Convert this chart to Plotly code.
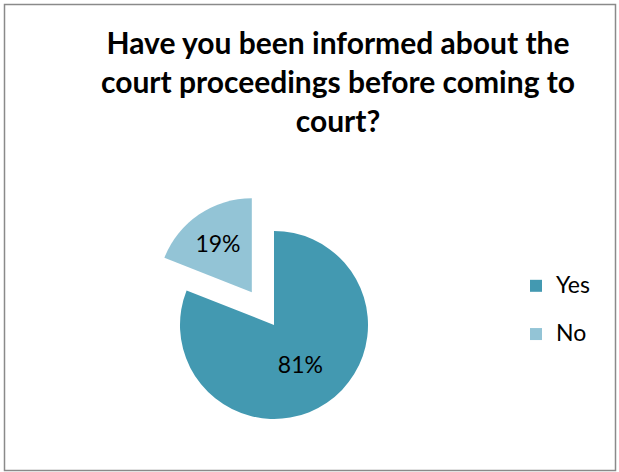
import plotly.graph_objects as go

# Survey answers
answers = ["Yes", "No"]
shares = [81, 19]
slice_colors = ["#4399B1", "#93C4D6"]
exploded = [0, 0.42]

title_text = ("Have you been informed about the<br>"
              "court proceedings before coming to<br>"
              "court?")

W, H = 619, 472


def px_x(v):
    return v / W


def px_y(v):
    return 1 - v / H


fig = go.Figure(
    go.Pie(
        labels=[f'<span style="font-size:23px">{a}</span><br> ' for a in answers],
        values=shares,
        sort=False,
        direction="clockwise",
        rotation=0,
        pull=exploded,
        marker=dict(colors=slice_colors, line=dict(width=0)),
        textinfo="percent",
        textposition="inside",
        insidetextorientation="horizontal",
        insidetextfont=dict(family="Lato", size=23, color="#000000"),
        hoverinfo="label+percent",
        domain=dict(x=[px_x(140.5), px_x(407.5)], y=[1 - 458.5 / H, 1 - 191.5 / H]),
    )
)

fig.update_layout(
    width=W,
    height=H,
    margin=dict(l=0, r=0, t=0, b=0),
    paper_bgcolor="#ffffff",
    plot_bgcolor="#ffffff",
    font=dict(family="Lato", color="#000000"),
    title=dict(
        text=title_text,
        x=px_x(338),
        xanchor="center",
        xref="paper",
        y=px_y(54),
        yanchor="top",
        yref="container",
        font=dict(family="Lato", size=30, color="#000000", weight="bold"),
    ),
    legend=dict(
        x=px_x(516),
        y=px_y(268),
        xanchor="left",
        yanchor="top",
        valign="top",
        font=dict(family="Lato", size=17.4, color="#000000"),
        bgcolor="rgba(0,0,0,0)",
        borderwidth=0,
    ),
    shapes=[
        dict(
            type="rect",
            xref="paper",
            yref="paper",
            x0=px_x(4.5),
            x1=px_x(615.5),
            y0=px_y(470.5),
            y1=px_y(4.5),
            line=dict(color="#8a8a8a", width=1.5),
            fillcolor="rgba(0,0,0,0)",
            layer="above",
        )
    ],
)

fig.write_html("out.html")
